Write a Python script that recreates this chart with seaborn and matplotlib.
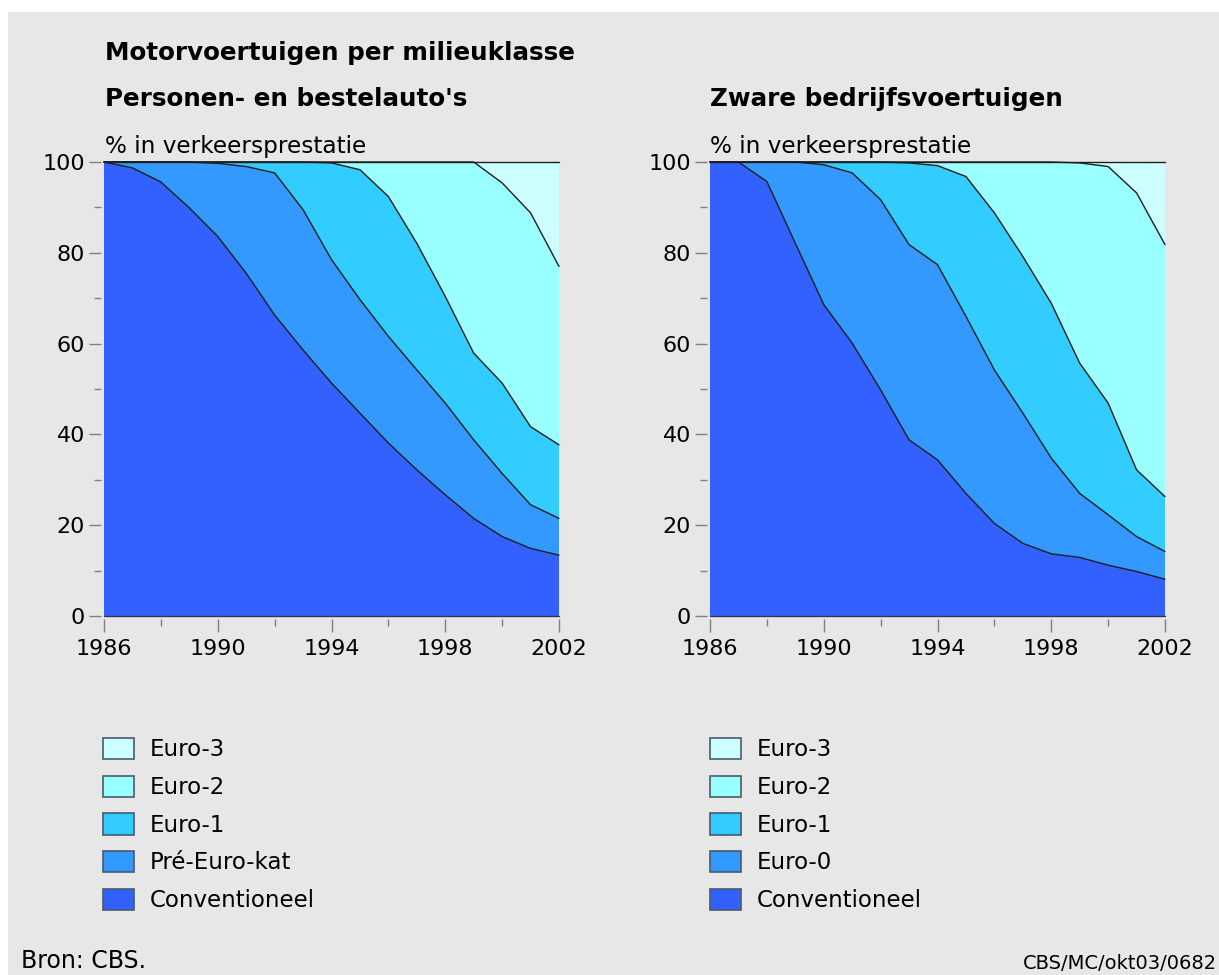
import numpy as np
import pandas as pd
import matplotlib
matplotlib.use("Agg")
import matplotlib.pyplot as plt
from matplotlib.patches import Rectangle, Patch
import seaborn as sns

# ---------------- data ----------------
years = list(range(1986, 2003))

# Personen- en bestelauto's: aandeel (%) in verkeersprestatie per milieuklasse
pb_conventioneel = [100, 98.7, 95.6, 89.9, 83.6, 75.5, 66.3, 58.6, 51.3, 44.7, 38.1, 32.2, 26.7, 21.5, 17.5, 14.9, 13.4]
pb_pre_euro_kat = [0, 1.3, 4.4, 10.1, 16.1, 23.5, 31.3, 30.9, 27.2, 25.0, 23.5, 22.0, 20.2, 17.3, 13.9, 9.6, 8.1]
pb_euro1 = [0, 0, 0, 0, 0.3, 1.0, 2.4, 10.5, 21.3, 28.6, 30.8, 27.9, 23.5, 19.1, 19.9, 17.2, 16.2]
pb_euro2 = [0, 0, 0, 0, 0, 0, 0, 0, 0.2, 1.7, 7.6, 17.9, 29.6, 42.1, 44.1, 47.1, 39.3]
pb_euro3 = [0, 0, 0, 0, 0, 0, 0, 0, 0, 0, 0, 0, 0, 0, 4.6, 11.2, 23.0]

# Zware bedrijfsvoertuigen
zb_conventioneel = [100, 100, 95.7, 82.1, 68.6, 60.1, 49.8, 38.8, 34.4, 27.0, 20.4, 16.0, 13.7, 12.9, 11.2, 9.8, 8.1]
zb_euro0 = [0, 0, 4.3, 17.9, 30.8, 37.5, 41.9, 43.0, 43.0, 39.0, 33.8, 28.7, 21.1, 14.1, 11.1, 7.7, 6.1]
zb_euro1 = [0, 0, 0, 0, 0.6, 2.4, 8.3, 18.0, 21.8, 30.8, 34.6, 34.5, 34.1, 28.7, 24.6, 14.7, 12.1]
zb_euro2 = [0, 0, 0, 0, 0, 0, 0, 0.2, 0.8, 3.2, 11.2, 20.8, 31.1, 44.1, 52.1, 61.0, 55.5]
zb_euro3 = [0, 0, 0, 0, 0, 0, 0, 0, 0, 0, 0, 0, 0, 0.2, 1.0, 6.8, 18.2]

pb_labels = ["Conventioneel", "Pré-Euro-kat", "Euro-1", "Euro-2", "Euro-3"]
zb_labels = ["Conventioneel", "Euro-0", "Euro-1", "Euro-2", "Euro-3"]
colors = ["#3361ff", "#3399ff", "#33ccff", "#99ffff", "#ccffff"]

x_ticks = [1986, 1990, 1994, 1998, 2002]
x_minor = list(range(1986, 2003, 2))
y_ticks = [0, 20, 40, 60, 80, 100]
y_minor = list(range(0, 101, 10))

title = "Motorvoertuigen per milieuklasse"
sub_left = "Personen- en bestelauto's"
sub_right = "Zware bedrijfsvoertuigen"
unit = "% in verkeersprestatie"
source = "Bron: CBS."
code = "CBS/MC/okt03/0682"

# ---------------- style ----------------
sns.set_theme(style="white")
plt.rcParams["font.family"] = ["DejaVu Sans"]
plt.rcParams["text.color"] = "black"
BG = "#e7e7e7"

W, H = 1219, 975
fig = plt.figure(figsize=(W / 100, H / 100), dpi=100, facecolor="white")
fig.patches.append(Rectangle((8 / W, 0), 1, 1 - 12 / H, transform=fig.transFigure,
                             facecolor=BG, edgecolor="none", zorder=-10))


def px(x, y):
    return x / W, 1 - y / H


def draw(ax, series, labels):
    df = pd.DataFrame(dict(zip(labels, series)), index=years)
    cum = df.cumsum(axis=1)
    lower = np.zeros(len(years))
    for lab, col in zip(labels, colors):
        upper = cum[lab].to_numpy()
        ax.fill_between(years, lower, upper, facecolor=col, edgecolor="none", linewidth=0)
        lower = upper
    long = cum.reset_index().rename(columns={"index": "jaar"}).melt(
        id_vars="jaar", var_name="klasse", value_name="cum")
    sns.lineplot(data=long, x="jaar", y="cum", units="klasse", estimator=None,
                 color="#1e1e1e", linewidth=1.0, ax=ax, legend=False)
    for ln in ax.lines:
        ln.set_clip_on(False)
    ax.axhline(0, color="#333355", linewidth=1.0, clip_on=False)
    ax.set_xlim(years[0], years[-1])
    ax.set_ylim(0, 100)
    ax.set_xticks(x_ticks)
    ax.set_xticks(x_minor, minor=True)
    ax.set_yticks(y_ticks)
    ax.set_yticks(y_minor, minor=True)
    ax.set_xlabel("")
    ax.set_ylabel("")
    ax.set_facecolor(BG)
    for s in ["top", "right"]:
        ax.spines[s].set_visible(False)
    for s in ["left", "bottom"]:
        ax.spines[s].set_position(("outward", 2.5))
        ax.spines[s].set_visible(False)
    ax.tick_params(axis="both", which="major", direction="out", length=9, width=1,
                   color="#808080", labelsize=16, labelcolor="black", pad=2,
                   left=True, bottom=True)
    ax.tick_params(axis="both", which="minor", direction="out", length=5, width=1,
                   color="#808080", left=True, bottom=True)
    ax.tick_params(axis="x", which="major", pad=5)
    handles = [Patch(facecolor=c, edgecolor="#4a5a6a", linewidth=1.2) for c in colors][::-1]
    return handles, labels[::-1]


axL = fig.add_axes([104 / W, 1 - 616 / H, 455 / W, 454 / H])
axR = fig.add_axes([710 / W, 1 - 616 / H, 455 / W, 454 / H])

hL, lL = draw(axL, [pb_conventioneel, pb_pre_euro_kat, pb_euro1, pb_euro2, pb_euro3], pb_labels)
hR, lR = draw(axR, [zb_conventioneel, zb_euro0, zb_euro1, zb_euro2, zb_euro3], zb_labels)

for ax, h, l, x0 in [(axL, hL, lL, 103), (axR, hR, lR, 710)]:
    leg = ax.legend(h, l, loc="upper left", bbox_to_anchor=px(x0, 738), bbox_transform=fig.transFigure,
                    frameon=False, fontsize=16.5, handlelength=1.35, handleheight=1.05,
                    handletextpad=0.7, labelspacing=0.62, borderpad=0, borderaxespad=0)
    for t in leg.get_texts():
        t.set_color("black")

fig.text(*px(105, 60), title, fontsize=17.7, fontweight="bold", va="baseline")
fig.text(*px(105, 106), sub_left, fontsize=17.7, fontweight="bold", va="baseline")
fig.text(*px(710, 106), sub_right, fontsize=17.7, fontweight="bold", va="baseline")
fig.text(*px(105, 153), unit, fontsize=16.7, va="baseline")
fig.text(*px(710, 153), unit, fontsize=16.7, va="baseline")
fig.text(*px(21, 968), source, fontsize=17, va="baseline")
fig.text(*px(1217, 969), code, fontsize=14, ha="right", va="baseline")

fig.savefig("out.png", dpi=100, facecolor=fig.get_facecolor())
